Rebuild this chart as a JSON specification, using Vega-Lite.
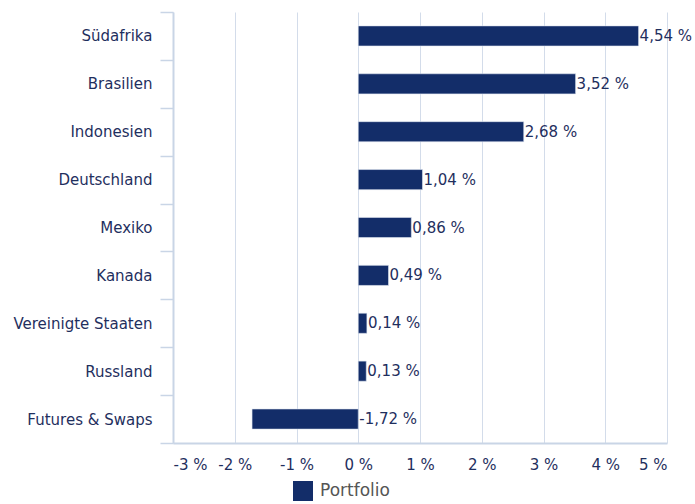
{
  "$schema": "https://vega.github.io/schema/vega-lite/v6.json",
  "autosize": "none",
  "width": 494,
  "height": 431,
  "padding": {"left": 173, "top": 12, "right": 28, "bottom": 61},
  "config": {
    "font": "DejaVu Sans",
    "view": {"stroke": null},
    "locale": {"number": {"decimal": ",", "thousands": ".", "grouping": [3], "currency": ["", " €"]}}
  },
  "data": {
    "values": [
      {"land": "Südafrika", "wert": 4.54, "serie": "Portfolio"},
      {"land": "Brasilien", "wert": 3.52, "serie": "Portfolio"},
      {"land": "Indonesien", "wert": 2.68, "serie": "Portfolio"},
      {"land": "Deutschland", "wert": 1.04, "serie": "Portfolio"},
      {"land": "Mexiko", "wert": 0.86, "serie": "Portfolio"},
      {"land": "Kanada", "wert": 0.49, "serie": "Portfolio"},
      {"land": "Vereinigte Staaten", "wert": 0.14, "serie": "Portfolio"},
      {"land": "Russland", "wert": 0.13, "serie": "Portfolio"},
      {"land": "Futures & Swaps", "wert": -1.72, "serie": "Portfolio"}
    ]
  },
  "transform": [
    {"calculate": "max(datum.wert, 0)", "as": "labelPos"},
    {"calculate": "replace(format(datum.wert, '.2f'), '−', '-') + ' %'", "as": "label"}
  ],
  "encoding": {
    "y": {
      "field": "land", "type": "nominal", "sort": null, "title": null,
      "scale": {"paddingInner": 0, "paddingOuter": 0},
      "axis": {
        "tickBand": "extent", "tickSize": 13, "tickColor": "#c9d5e6", "domainColor": "#c9d5e6",
        "domainWidth": 2, "tickWidth": 1.5,
        "labelFontSize": 15, "labelColor": "#1f2f5e", "labelPadding": 8, "grid": false
      }
    }
  },
  "layer": [
    {
      "mark": {"type": "bar", "height": {"band": 0.42}, "stroke": "#dfe5f0", "strokeWidth": 0.6},
      "encoding": {
        "x": {
          "field": "wert", "type": "quantitative", "title": null,
          "scale": {"domain": [-3, 5], "nice": false},
          "axis": {
            "values": [-3, -2, -1, 0, 1, 2, 3, 4, 5],
            "labelExpr": "datum.value + ' %'",
            "grid": true, "gridColor": "#d3dcea", "gridWidth": 1,
            "ticks": false, "domainColor": "#c9d5e6", "domainWidth": 2, "labelPadding": 14,
            "labelFontSize": 15, "labelColor": "#1f2f5e", "labelBound": true
          }
        },
        "color": {
          "field": "serie", "type": "nominal", "title": null,
          "scale": {"range": ["#132d69"]},
          "legend": {
            "orient": "none", "legendX": 120, "legendY": 469, "direction": "horizontal",
            "symbolType": "square", "symbolSize": 400, "symbolStrokeWidth": 0,
            "labelFontSize": 17, "labelColor": "#555555", "labelOffset": 7
          }
        }
      }
    },
    {
      "mark": {"type": "text", "align": "left", "baseline": "middle", "dx": 1, "fontSize": 15, "color": "#1f2f5e"},
      "encoding": {
        "x": {"field": "labelPos", "type": "quantitative"},
        "text": {"field": "label"}
      }
    }
  ]
}
